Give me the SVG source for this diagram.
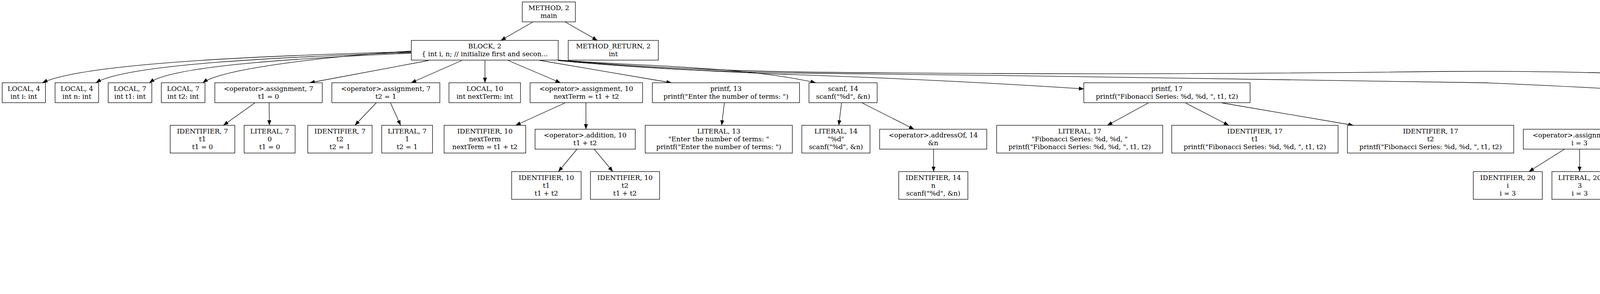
<svg xmlns="http://www.w3.org/2000/svg" width="6367" height="753" viewBox="0 0 6367 753">
<style>
.n rect{fill:#fff;stroke:#000;stroke-width:1.3}
.n text{font-family:"DejaVu Serif","Liberation Serif",serif;font-size:17px;text-anchor:middle;fill:#000}
.e path{fill:none;stroke:#000;stroke-width:1.3;marker-end:url(#ah)}
</style>
<defs>
<marker id="ah" viewBox="0 0 13 10" refX="13" refY="5" markerWidth="13" markerHeight="10" markerUnits="userSpaceOnUse" orient="auto"><path d="M0,0 L13,5 L0,10 z" fill="#000"/></marker>
</defs>
<rect width="6367" height="753" fill="#fff"/>
<g id="edges" class="e">
<path d="M1363.3,56.7 L1282,103.5"/>
<path d="M1446.7,56 L1529.3,103.5"/>
<path d="M1052,132.5 C700,142 220,160 108.7,211.7"/>
<path d="M1052,134 C750,146 330,162 245.5,211.7"/>
<path d="M1052,136 C800,148 450,165 382.3,211.7"/>
<path d="M1052,130.7 C900,140 580,170 519,211.7"/>
<path d="M1097,155 L792.7,212"/>
<path d="M1182,155 L1052.6,212"/>
<path d="M1241.5,155 L1241.5,212"/>
<path d="M1300,154.5 L1435,212"/>
<path d="M1381,154.5 L1719,212"/>
<path d="M1429,154 C1650,170 1900,170 2088,211.7"/>
<path d="M1429,155 C1650,175 1850,184 2000,190 C2300,200 2550,213 2775,227.7"/>
<path d="M1429,155 C1650,176 1850,185 2100,188 C2700,195 3400,202 3800,212 C4000,220 4150,230 4231,231"/>
<path d="M1429,154 C1650,172 1850,182 2100,185 C2600,190 3000,191 3700,183 C4100,180 4600,200 4962.5,230"/>
<path d="M652.4,263.5 L571.7,321"/>
<path d="M689,263.5 L689.6,321"/>
<path d="M963.2,263.5 L908.5,321"/>
<path d="M999.6,263.5 L1025.6,321"/>
<path d="M1446.7,263.5 L1320,321"/>
<path d="M1500,263.5 L1500,331"/>
<path d="M1477.2,382 L1429.4,439.5"/>
<path d="M1521,382 L1568.9,439.5"/>
<path d="M1854.4,263.5 L1847.4,321"/>
<path d="M2154.3,263.5 L2147.3,321"/>
<path d="M2207,263.5 L2340,331"/>
<path d="M2390,382 L2390,439.5"/>
<path d="M2940,263.5 L2834.8,321"/>
<path d="M3034.7,263.5 L3145.6,321"/>
<path d="M3128,263.5 L3464.8,321"/>
<path d="M4277,273 L4117.2,331"/>
<path d="M4375.4,273 L4375.4,331"/>
<path d="M4477,273 L4642,331"/>
<path d="M4521,261.7 L4971.7,331"/>
<path d="M5105.6,256.7 L5340.7,325"/>
<path d="M4005.2,382 L3914,439.5"/>
<path d="M4043.7,382 L4043.7,439.5"/>
<path d="M4345.4,382 L4271.7,439.5"/>
<path d="M4387.5,382 L4414.1,439.5"/>
<path d="M4699.7,382 L4657.6,439.5"/>
<path d="M5071.7,382 L4924.4,449.5"/>
<path d="M5134.9,382 L5155.9,449.5"/>
<path d="M5205,382 L5417,449.5"/>
<path d="M5268,382 L5770.5,452.5"/>
<path d="M4808.7,500.5 L4664.9,558.5"/>
<path d="M4866.2,500.5 L4859.2,558.5"/>
<path d="M5148.9,500.5 L5115.9,558.5"/>
<path d="M5193,500.5 L5254,558.5"/>
<path d="M5496.4,500.5 L5496.4,558.5"/>
<path d="M5539.2,500.5 L5635.3,558.5"/>
<path d="M5914.5,500.5 L5914.5,558.5"/>
<path d="M5968.5,500.5 L6117.9,568.5"/>
<path d="M6150.9,619.5 L6101.8,676.5"/>
<path d="M6194.4,619.5 L6243.5,676.5"/>
</g>
<g id="method" class="n"><rect x="1337" y="5" width="136" height="51"/><text><tspan x="1405" y="26">METHOD, 2</tspan><tspan x="1405" y="46">main</tspan></text></g>
<g id="block2" class="n"><rect x="1053" y="103.5" width="376" height="50.5"/><text><tspan x="1241" y="124.2">BLOCK, 2</tspan><tspan x="1241" y="144.2">{ int i, n; // initialize first and secon...</tspan></text></g>
<g id="method_return" class="n"><rect x="1454.6" y="103.5" width="230.8" height="50.5"/><text><tspan x="1570" y="124.2">METHOD_RETURN, 2</tspan><tspan x="1570" y="144.2">int</tspan></text></g>
<g id="local_i" class="n"><rect x="5.6" y="212" width="110.8" height="51"/><text><tspan x="61" y="233">LOCAL, 4</tspan><tspan x="61" y="253">int i: int</tspan></text></g>
<g id="local_n" class="n"><rect x="141" y="212" width="111.5" height="51"/><text><tspan x="196.8" y="233">LOCAL, 4</tspan><tspan x="196.8" y="253">int n: int</tspan></text></g>
<g id="local_t1" class="n"><rect x="277" y="212" width="111.6" height="51"/><text><tspan x="332.8" y="233">LOCAL, 7</tspan><tspan x="332.8" y="253">int t1: int</tspan></text></g>
<g id="local_t2" class="n"><rect x="413" y="212" width="111.7" height="51"/><text><tspan x="468.9" y="233">LOCAL, 7</tspan><tspan x="468.9" y="253">int t2: int</tspan></text></g>
<g id="assign7a" class="n"><rect x="550" y="212" width="275" height="51"/><text><tspan x="687.5" y="233">&lt;operator&gt;.assignment, 7</tspan><tspan x="687.5" y="253">t1 = 0</tspan></text></g>
<g id="assign7b" class="n"><rect x="849.5" y="212" width="276.5" height="51"/><text><tspan x="987.8" y="233">&lt;operator&gt;.assignment, 7</tspan><tspan x="987.8" y="253">t2 = 1</tspan></text></g>
<g id="local_next" class="n"><rect x="1149.4" y="212" width="183.1" height="51"/><text><tspan x="1241" y="233">LOCAL, 10</tspan><tspan x="1241" y="253">int nextTerm: int</tspan></text></g>
<g id="assign10" class="n"><rect x="1357" y="212" width="288" height="51"/><text><tspan x="1501" y="233">&lt;operator&gt;.assignment, 10</tspan><tspan x="1501" y="253">nextTerm = t1 + t2</tspan></text></g>
<g id="printf13" class="n"><rect x="1670" y="212" width="376.7" height="51"/><text><tspan x="1858.4" y="233">printf, 13</tspan><tspan x="1858.4" y="253">printf("Enter the number of terms: ")</tspan></text></g>
<g id="scanf14" class="n"><rect x="2071" y="212" width="174.5" height="51"/><text><tspan x="2158.3" y="233">scanf, 14</tspan><tspan x="2158.3" y="253">scanf("%d", &amp;n)</tspan></text></g>
<g id="printf17" class="n"><rect x="2774.5" y="212" width="425.8" height="51"/><text><tspan x="2987.4" y="233">printf, 17</tspan><tspan x="2987.4" y="253">printf("Fibonacci Series: %d, %d, ", t1, t2)</tspan></text></g>
<g id="control20" class="n"><rect x="4231" y="202" width="290" height="71"/><text><tspan x="4376" y="223">CONTROL_STRUCTURE, 20</tspan><tspan x="4376" y="243">FOR</tspan><tspan x="4376" y="263">for (i = 3;i &lt;= n;++i)</tspan></text></g>
<g id="return27" class="n"><rect x="4962.5" y="212" width="143.1" height="51"/><text><tspan x="5034" y="233">RETURN, 27</tspan><tspan x="5034" y="253">return 0;</tspan></text></g>
<g id="ident7a" class="n"><rect x="435.6" y="321" width="165.6" height="71"/><text><tspan x="518.4" y="342">IDENTIFIER, 7</tspan><tspan x="518.4" y="362">t1</tspan><tspan x="518.4" y="382">t1 = 0</tspan></text></g>
<g id="lit7a" class="n"><rect x="625" y="321" width="130.5" height="71"/><text><tspan x="690.3" y="342">LITERAL, 7</tspan><tspan x="690.3" y="362">0</tspan><tspan x="690.3" y="382">t1 = 0</tspan></text></g>
<g id="ident7b" class="n"><rect x="787.8" y="321" width="164.8" height="71"/><text><tspan x="870.2" y="342">IDENTIFIER, 7</tspan><tspan x="870.2" y="362">t2</tspan><tspan x="870.2" y="382">t2 = 1</tspan></text></g>
<g id="lit7b" class="n"><rect x="977.2" y="321" width="130.1" height="71"/><text><tspan x="1042.3" y="342">LITERAL, 7</tspan><tspan x="1042.3" y="362">1</tspan><tspan x="1042.3" y="382">t2 = 1</tspan></text></g>
<g id="ident10" class="n"><rect x="1136.8" y="321" width="209" height="71"/><text><tspan x="1241.3" y="342">IDENTIFIER, 10</tspan><tspan x="1241.3" y="362">nextTerm</tspan><tspan x="1241.3" y="382">nextTerm = t1 + t2</tspan></text></g>
<g id="add10" class="n"><rect x="1369.7" y="331" width="256.7" height="51"/><text><tspan x="1498" y="352">&lt;operator&gt;.addition, 10</tspan><tspan x="1498" y="372">t1 + t2</tspan></text></g>
<g id="lit13" class="n"><rect x="1651.7" y="321" width="376.7" height="71"/><text><tspan x="1840" y="342">LITERAL, 13</tspan><tspan x="1840" y="362">"Enter the number of terms: "</tspan><tspan x="1840" y="382">printf("Enter the number of terms: ")</tspan></text></g>
<g id="lit14" class="n"><rect x="2052.6" y="321" width="174.7" height="71"/><text><tspan x="2140" y="342">LITERAL, 14</tspan><tspan x="2140" y="362">"%d"</tspan><tspan x="2140" y="382">scanf("%d", &amp;n)</tspan></text></g>
<g id="addr14" class="n"><rect x="2251.8" y="331" width="274.3" height="51"/><text><tspan x="2389" y="352">&lt;operator&gt;.addressOf, 14</tspan><tspan x="2389" y="372">&amp;n</tspan></text></g>
<g id="lit17" class="n"><rect x="2551.4" y="321" width="425.1" height="71"/><text><tspan x="2764" y="342">LITERAL, 17</tspan><tspan x="2764" y="362">"Fibonacci Series: %d, %d, "</tspan><tspan x="2764" y="382">printf("Fibonacci Series: %d, %d, ", t1, t2)</tspan></text></g>
<g id="ident17a" class="n"><rect x="2999.6" y="321" width="425.9" height="71"/><text><tspan x="3212.5" y="342">IDENTIFIER, 17</tspan><tspan x="3212.5" y="362">t1</tspan><tspan x="3212.5" y="382">printf("Fibonacci Series: %d, %d, ", t1, t2)</tspan></text></g>
<g id="ident17b" class="n"><rect x="3449.4" y="321" width="425.8" height="71"/><text><tspan x="3662.3" y="342">IDENTIFIER, 17</tspan><tspan x="3662.3" y="362">t2</tspan><tspan x="3662.3" y="382">printf("Fibonacci Series: %d, %d, ", t1, t2)</tspan></text></g>
<g id="assign20" class="n"><rect x="3899.7" y="331" width="287.6" height="51"/><text><tspan x="4043.5" y="352">&lt;operator&gt;.assignment, 20</tspan><tspan x="4043.5" y="372">i = 3</tspan></text></g>
<g id="le20" class="n"><rect x="4212.6" y="331" width="326.9" height="51"/><text><tspan x="4376" y="352">&lt;operator&gt;.lessEqualsThan, 20</tspan><tspan x="4376" y="372">i &lt;= n</tspan></text></g>
<g id="preinc20" class="n"><rect x="4562.7" y="331" width="308.6" height="51"/><text><tspan x="4717" y="352">&lt;operator&gt;.preIncrement, 20</tspan><tspan x="4717" y="372">++i</tspan></text></g>
<g id="block20" class="n"><rect x="4936.6" y="331" width="380.9" height="51"/><text><tspan x="5127" y="352">BLOCK, 20</tspan><tspan x="5127" y="372">{ printf("%d, ", nextTerm); t1 = t2; ...</tspan></text></g>
<g id="lit27" class="n"><rect x="5341.4" y="321" width="143.1" height="71"/><text><tspan x="5413" y="342">LITERAL, 27</tspan><tspan x="5413" y="362">0</tspan><tspan x="5413" y="382">return 0;</tspan></text></g>
<g id="ident10a" class="n"><rect x="1309.8" y="439.5" width="177.8" height="71"/><text><tspan x="1398.7" y="460.5">IDENTIFIER, 10</tspan><tspan x="1398.7" y="480.5">t1</tspan><tspan x="1398.7" y="500.5">t1 + t2</tspan></text></g>
<g id="ident10b" class="n"><rect x="1511.5" y="439.5" width="177" height="71"/><text><tspan x="1600" y="460.5">IDENTIFIER, 10</tspan><tspan x="1600" y="480.5">t2</tspan><tspan x="1600" y="500.5">t1 + t2</tspan></text></g>
<g id="ident14" class="n"><rect x="2300.7" y="439.5" width="177" height="71"/><text><tspan x="2389.2" y="460.5">IDENTIFIER, 14</tspan><tspan x="2389.2" y="480.5">n</tspan><tspan x="2389.2" y="500.5">scanf("%d", &amp;n)</tspan></text></g>
<g id="ident20a" class="n"><rect x="3771.6" y="439.5" width="176.7" height="71"/><text><tspan x="3860" y="460.5">IDENTIFIER, 20</tspan><tspan x="3860" y="480.5">i</tspan><tspan x="3860" y="500.5">i = 3</tspan></text></g>
<g id="lit20" class="n"><rect x="3972.9" y="439.5" width="142.4" height="71"/><text><tspan x="4044.1" y="460.5">LITERAL, 20</tspan><tspan x="4044.1" y="480.5">3</tspan><tspan x="4044.1" y="500.5">i = 3</tspan></text></g>
<g id="ident20b" class="n"><rect x="4139.1" y="439.5" width="177.5" height="71"/><text><tspan x="4227.9" y="460.5">IDENTIFIER, 20</tspan><tspan x="4227.9" y="480.5">i</tspan><tspan x="4227.9" y="500.5">i &lt;= n</tspan></text></g>
<g id="ident20c" class="n"><rect x="4340.5" y="439.5" width="177.5" height="71"/><text><tspan x="4429.3" y="460.5">IDENTIFIER, 20</tspan><tspan x="4429.3" y="480.5">n</tspan><tspan x="4429.3" y="500.5">i &lt;= n</tspan></text></g>
<g id="ident20d" class="n"><rect x="4541.8" y="439.5" width="177.5" height="71"/><text><tspan x="4630.6" y="460.5">IDENTIFIER, 20</tspan><tspan x="4630.6" y="480.5">i</tspan><tspan x="4630.6" y="500.5">++i</tspan></text></g>
<g id="printf21" class="n"><rect x="4743.4" y="449.5" width="254" height="51"/><text><tspan x="4870.4" y="470.5">printf, 21</tspan><tspan x="4870.4" y="490.5">printf("%d, ", nextTerm)</tspan></text></g>
<g id="assign22" class="n"><rect x="5021.2" y="449.5" width="288.3" height="51"/><text><tspan x="5165.4" y="470.5">&lt;operator&gt;.assignment, 22</tspan><tspan x="5165.4" y="490.5">t1 = t2</tspan></text></g>
<g id="assign23" class="n"><rect x="5351.9" y="449.5" width="287.6" height="51"/><text><tspan x="5495.7" y="470.5">&lt;operator&gt;.assignment, 23</tspan><tspan x="5495.7" y="490.5">t2 = nextTerm</tspan></text></g>
<g id="assign24" class="n"><rect x="5770" y="449.5" width="288.3" height="51"/><text><tspan x="5914.2" y="470.5">&lt;operator&gt;.assignment, 24</tspan><tspan x="5914.2" y="490.5">nextTerm = t1 + t2</tspan></text></g>
<g id="lit21" class="n"><rect x="4449.2" y="558.5" width="253.3" height="71"/><text><tspan x="4575.9" y="579.5">LITERAL, 21</tspan><tspan x="4575.9" y="599.5">"%d, "</tspan><tspan x="4575.9" y="619.5">printf("%d, ", nextTerm)</tspan></text></g>
<g id="ident21" class="n"><rect x="4726.6" y="558.5" width="253.2" height="71"/><text><tspan x="4853.2" y="579.5">IDENTIFIER, 21</tspan><tspan x="4853.2" y="599.5">nextTerm</tspan><tspan x="4853.2" y="619.5">printf("%d, ", nextTerm)</tspan></text></g>
<g id="ident22a" class="n"><rect x="5004.4" y="558.5" width="177.5" height="71"/><text><tspan x="5093.2" y="579.5">IDENTIFIER, 22</tspan><tspan x="5093.2" y="599.5">t1</tspan><tspan x="5093.2" y="619.5">t1 = t2</tspan></text></g>
<g id="ident22b" class="n"><rect x="5205.7" y="558.5" width="177.5" height="71"/><text><tspan x="5294.5" y="579.5">IDENTIFIER, 22</tspan><tspan x="5294.5" y="599.5">t2</tspan><tspan x="5294.5" y="619.5">t1 = t2</tspan></text></g>
<g id="ident23a" class="n"><rect x="5407.3" y="558.5" width="176.8" height="71"/><text><tspan x="5495.7" y="579.5">IDENTIFIER, 23</tspan><tspan x="5495.7" y="599.5">t2</tspan><tspan x="5495.7" y="619.5">t2 = nextTerm</tspan></text></g>
<g id="ident23b" class="n"><rect x="5608.6" y="558.5" width="177.5" height="71"/><text><tspan x="5697.4" y="579.5">IDENTIFIER, 23</tspan><tspan x="5697.4" y="599.5">nextTerm</tspan><tspan x="5697.4" y="619.5">t2 = nextTerm</tspan></text></g>
<g id="ident24a" class="n"><rect x="5810" y="558.5" width="209" height="71"/><text><tspan x="5914.5" y="579.5">IDENTIFIER, 24</tspan><tspan x="5914.5" y="599.5">nextTerm</tspan><tspan x="5914.5" y="619.5">nextTerm = t1 + t2</tspan></text></g>
<g id="add24" class="n"><rect x="6043.6" y="568.5" width="256" height="51"/><text><tspan x="6171.6" y="589.5">&lt;operator&gt;.addition, 24</tspan><tspan x="6171.6" y="609.5">t1 + t2</tspan></text></g>
<g id="ident24b" class="n"><rect x="5983.2" y="676.5" width="176.8" height="71"/><text><tspan x="6071.6" y="697.5">IDENTIFIER, 24</tspan><tspan x="6071.6" y="717.5">t1</tspan><tspan x="6071.6" y="737.5">t1 + t2</tspan></text></g>
<g id="ident24c" class="n"><rect x="6184.6" y="676.5" width="176.8" height="71"/><text><tspan x="6273" y="697.5">IDENTIFIER, 24</tspan><tspan x="6273" y="717.5">t2</tspan><tspan x="6273" y="737.5">t1 + t2</tspan></text></g>
</svg>
